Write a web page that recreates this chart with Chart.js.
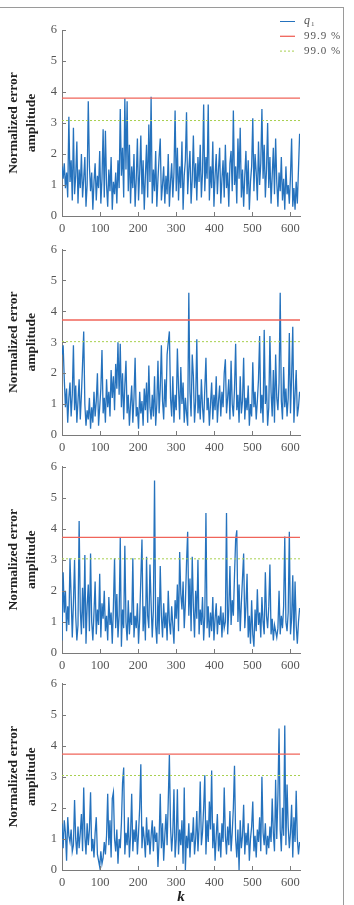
<!DOCTYPE html>
<html>
<head>
<meta charset="utf-8">
<script src="https://cdn.jsdelivr.net/npm/chart.js@4.4.1/dist/chart.umd.min.js"></script>
<style>
  html, body { margin: 0; padding: 0; background: #fff; width: 354px; height: 905px; overflow: hidden; }
  #frame { position: absolute; left: -1px; top: 7px; width: 344px; height: 910px; border-top: 1px solid #9a9a9a; border-right: 1px solid #9a9a9a; }
  .panel { position: absolute; left: 0; width: 354px; }
</style>
</head>
<body>
<div id="frame"></div>
<div class="panel" style="top:0px;height:245px"><canvas id="c1"></canvas></div>
<div class="panel" style="top:237px;height:227px"><canvas id="c2"></canvas></div>
<div class="panel" style="top:454px;height:228px"><canvas id="c3"></canvas></div>
<div class="panel" style="top:671px;height:235px"><canvas id="c4"></canvas></div>
<script>
// DATA (one sample every 3 steps of k)
const kStep = 3
const kMin = 0
const kMax = 625
const kTicks = [0, 100, 200, 300, 400, 500, 600]
const yTicks = [0, 1, 2, 3, 4, 5, 6]
const legendLabels = ['q', '99.9 %', '99.0 %']

const q1 = [
  1.6, 1.2, 1.7, 0.9, 1.4, 0.6, 3.2, 1.1, 1.8, 0.5,
  2.85, 0.7, 1.3, 2.4, 0.4, 1.5, 0.9, 2.0, 0.6, 1.2,
  1.9, 0.3, 1.0, 3.7, 1.6, 0.8, 1.4, 0.2, 1.1, 1.7,
  0.5, 1.3, 0.9, 2.1, 0.4, 1.2, 2.8, 0.6, 2.75, 1.0,
  0.3, 1.5, 0.8, 1.9, 0.2, 1.1, 0.7, 1.4, 0.4, 1.8,
  0.9, 3.45, 1.3, 2.2, 0.6, 3.8, 1.5, 3.7, 0.8, 2.3,
  0.4, 1.6, 0.9, 2.0, 0.3, 1.2, 2.5, 0.5, 1.4, 2.6,
  0.7, 1.8, 0.2, 1.3, 2.3, 0.6, 2.95, 1.1, 3.85, 0.4,
  1.5, 0.8, 2.1, 0.3, 1.2, 1.9, 2.5, 0.5, 1.0, 1.6,
  0.4, 1.3, 0.7, 2.0, 0.3, 1.1, 1.7, 0.6, 1.4, 3.4,
  0.8, 2.2, 0.5, 1.6, 0.9, 2.4, 0.2, 1.3, 1.8, 3.35,
  0.7, 1.5, 2.1, 0.4, 1.2, 2.6, 0.9, 1.7, 0.5, 1.9,
  1.1, 2.3, 0.6, 1.4, 3.6, 0.8, 1.9, 1.2, 3.6, 0.5,
  1.6, 0.9, 2.4, 0.3, 1.3, 2.0, 0.7, 1.5, 2.2, 0.4,
  1.2, 1.8, 0.6, 2.3, 0.9, 1.4, 0.3, 1.7, 2.1, 0.8,
  3.4, 1.0, 1.6, 0.4, 2.5, 1.2, 2.85, 0.6, 1.5, 0.3,
  1.3, 2.1, 0.7, 1.8, 0.2, 1.1, 1.6, 3.15, 0.8, 2.0,
  1.4, 0.5, 2.4, 1.0, 1.7, 3.45, 1.2, 2.3, 0.6, 1.5,
  3.0, 0.9, 1.9, 0.4, 1.3, 2.2, 0.7, 2.5, 1.1, 0.3,
  1.4, 0.8, 1.9, 0.5, 1.2, 0.2, 1.6, 0.7, 1.0, 0.4,
  1.3, 2.5, 0.3, 0.9, 0.2, 1.1, 0.4, 1.5, 2.65
]
const q2 = [
  2.6, 2.9, 1.8, 0.9, 1.5, 0.4, 1.2, 1.7, 0.6, 1.3,
  2.9, 0.8, 1.6, 0.4, 1.1, 1.8, 0.5, 1.3, 2.3, 3.35,
  1.0, 0.3, 0.8, 0.5, 1.2, 0.2, 0.9, 0.4, 1.4, 0.6,
  1.1, 2.0, 0.3, 0.9, 1.5, 2.75, 0.7, 1.2, 0.4, 1.8,
  0.9, 1.4, 0.6, 2.1, 1.2, 1.9, 0.8, 2.3, 1.5, 3.0,
  1.3, 2.95, 0.9, 2.0, 0.5, 1.6, 2.4, 0.7, 1.3, 0.3,
  1.0, 1.6, 0.4, 1.2, 2.5, 0.6, 0.9, 0.2, 1.4, 0.7,
  1.1, 0.3, 1.5, 0.8, 1.7, 0.4, 2.25, 0.9, 0.5, 1.3,
  0.6, 1.9, 0.3, 1.0, 2.4, 0.7, 1.5, 2.9, 1.1, 0.5,
  1.8, 0.9, 2.6, 3.0, 3.35, 1.2, 0.6, 1.9, 0.4, 1.3,
  0.8, 2.8, 1.5, 0.5, 2.2, 1.0, 1.7, 0.4, 1.2, 0.7,
  0.3, 4.6, 1.4, 0.6, 2.6, 1.9, 0.4, 1.1, 3.1, 0.7,
  1.3, 0.5, 1.8, 0.9, 0.4, 1.5, 2.5, 0.8, 1.2, 0.3,
  1.0, 1.7, 0.5, 1.3, 0.8, 1.9, 0.4, 1.1, 1.6, 0.6,
  1.4, 0.9, 2.0, 2.45, 0.7, 1.2, 1.8, 0.5, 2.4, 1.0,
  0.6, 1.5, 2.95, 0.8, 1.3, 0.4, 1.9, 0.7, 1.1, 2.5,
  0.5, 1.2, 0.8, 1.6, 0.3, 1.0, 0.6, 2.35, 0.9, 1.4,
  0.5, 1.1, 1.8, 3.2, 0.7, 1.3, 0.4, 3.4, 1.0, 1.6,
  0.3, 0.9, 3.2, 1.4, 0.6, 2.1, 0.4, 2.6, 1.2, 0.8,
  1.7, 4.6, 1.1, 0.5, 2.2, 0.9, 1.5, 0.6, 1.2, 3.3,
  0.7, 1.9, 3.5, 0.4, 1.3, 2.1, 0.6, 0.9, 1.4
]
const q3 = [
  0.4, 2.6, 1.3, 2.0, 0.7, 1.5, 0.9, 3.05, 1.8, 0.5,
  1.6, 3.0, 1.2, 0.4, 0.9, 4.25, 1.4, 0.6, 2.1, 0.8,
  3.15, 0.3, 1.5, 2.2, 0.7, 3.2, 1.0, 0.4, 1.3, 2.3,
  0.6, 1.4, 0.9, 2.55, 0.5, 1.6, 1.1, 2.0, 0.7, 1.2,
  0.4, 1.8, 0.9, 1.3, 0.3, 1.5, 3.05, 0.8, 1.9, 0.5,
  1.2, 3.7, 0.2, 1.4, 0.8, 3.45, 1.0, 0.4, 1.7, 0.6,
  1.3, 0.9, 3.05, 0.5, 1.2, 0.8, 1.6, 0.3, 1.1, 2.4,
  3.65, 0.7, 1.5, 0.4, 3.1, 1.2, 0.8, 2.85, 1.6, 0.5,
  1.4, 5.55, 0.9, 0.3, 1.8, 0.6, 2.8, 1.2, 0.5, 1.6,
  0.8, 1.3, 0.4, 2.0, 1.0, 0.6, 1.5, 0.9, 0.3, 1.7,
  1.1, 2.2, 0.7, 3.25, 1.9, 1.4, 2.3, 0.8, 1.6, 2.9,
  3.9, 1.2, 2.4, 0.7, 3.1, 1.5, 0.5, 2.0, 1.1, 3.0,
  0.6, 1.4, 0.9, 1.8, 0.4, 1.2, 4.5, 0.8, 1.5, 0.5,
  1.3, 0.7, 1.8, 0.4, 1.1, 1.6, 0.6, 1.2, 0.9, 1.5,
  0.5, 1.3, 0.8, 1.0, 4.5, 0.6, 1.4, 2.8, 0.9, 1.7,
  1.2, 2.5, 3.65, 3.95, 1.0, 2.2, 0.7, 1.6, 2.4, 3.2,
  0.8, 1.5, 2.55, 0.5, 1.2, 0.3, 1.7, 0.6, 0.2, 1.4,
  0.7, 2.05, 0.9, 1.3, 0.5, 1.8, 1.0, 0.6, 2.6, 1.2,
  0.8, 1.5, 2.85, 0.6, 1.1, 0.4, 0.9, 0.7, 0.5, 0.8,
  2.0, 0.6, 1.2, 0.8, 1.5, 3.75, 1.0, 0.7, 1.3, 3.9,
  0.6, 1.1, 2.5, 0.4, 2.3, 0.9, 0.3, 1.0, 1.45
]
const q4 = [
  1.5, 0.7, 1.6, 1.2, 0.3, 1.7, 1.1, 0.9, 1.3, 0.6,
  0.8, 2.25, 1.0, 0.5, 1.4, 0.7, 1.2, 1.8, 0.6, 2.65,
  1.1, 0.5, 1.5, 0.8, 1.3, 2.5, 0.6, 1.0, 0.4, 1.2,
  1.7, 0.5, 0.3, 0.1, 0.6, 0.2, 0.4, 0.9, 0.5, 1.1,
  2.45, 0.8, 1.6, 0.4, 2.3, 2.5, 1.0, 0.6, 1.3, 0.2,
  1.0, 0.7, 1.5, 2.8, 3.3, 0.5, 1.2, 0.8, 1.7, 0.4,
  1.1, 2.45, 0.6, 1.3, 0.9, 1.6, 0.5, 1.2, 2.0, 3.4,
  0.7, 1.4, 1.0, 0.4, 1.7, 0.8, 1.3, 0.5, 1.1, 1.6,
  0.6, 1.4, 0.9, 1.2, 0.1, 1.0, 2.45, 0.7, 1.5, 0.3,
  1.1, 1.8, 0.8, 2.2, 3.7, 1.4, 0.6, 1.2, 2.6, 0.4,
  1.0, 2.6, 0.5, 1.3, 0.8, 1.6, 0.2, 2.65, 0.0, 1.1,
  0.7, 1.5, 0.4, 1.2, 0.9, 1.7, 0.5, 1.0, 1.9, 0.6,
  1.4, 2.85, 0.8, 1.2, 2.0, 3.05, 0.5, 1.6, 0.9, 2.2,
  1.3, 3.2, 0.7, 1.5, 0.3, 1.1, 1.8, 0.6, 1.2, 0.4,
  1.5, 0.9, 2.65, 1.1, 0.5, 1.4, 0.8, 1.9, 0.6, 1.2,
  2.0, 3.35, 1.0, 0.4, 1.3, 0.0, 1.6, 0.7, 1.1, 2.1,
  0.5, 1.2, 0.8, 1.5, 0.3, 1.0, 1.4, 2.2, 0.6, 1.1,
  0.4, 1.3, 0.9, 1.7, 0.6, 3.0, 1.2, 0.8, 1.5, 0.5,
  1.1, 0.7, 1.4, 0.9, 2.3, 1.2, 0.6, 2.9, 1.0, 2.4,
  4.55, 1.3, 0.6, 2.0, 1.1, 4.65, 0.8, 2.75, 1.4, 0.7,
  1.2, 2.1, 0.4, 1.7, 0.9, 2.55, 1.0, 0.5, 0.9
]
const limit999 = [3.8, 3.72, 3.72, 3.73]
const limit990 = [3.08, 3.02, 3.03, 3.04]

// ESTILO
const serif = "'Liberation Serif', 'DejaVu Serif', serif"
const blue = '#2572bd'
const red = '#f0645a'
const green = '#a8d050'
const axisColor = '#7a7a7a'
const tickColor = '#555'

function toPoints(values) {
    return values.map(function(v, i) { return { x: i * kStep, y: v } })
}

// ticks para dentro do grafico
const inwardTicks = {
    id: 'inwardTicks',
    afterDraw(chart) {
        const ctx = chart.ctx
        const area = chart.chartArea
        const x = chart.scales.x
        const y = chart.scales.y
        ctx.save()
        ctx.strokeStyle = axisColor
        ctx.lineWidth = 1
        ctx.beginPath()
        x.ticks.forEach(function(t) {
            if (t.value === 0) return
            const px = Math.round(x.getPixelForValue(t.value)) + 0.5
            ctx.moveTo(px, area.bottom)
            ctx.lineTo(px, area.bottom - 4)
        })
        y.ticks.forEach(function(t) {
            if (t.value === 0) return
            const py = Math.round(y.getPixelForValue(t.value)) + 0.5
            ctx.moveTo(area.left, py)
            ctx.lineTo(area.left + 4, py)
        })
        ctx.stroke()
        ctx.restore()
    }
}

// legenda desenhada no canto superior direito
const cornerLegend = {
    id: 'cornerLegend',
    afterDraw(chart, args, opts) {
        if (!opts.show) return
        const ctx = chart.ctx
        const sets = chart.data.datasets
        ctx.save()
        ctx.textBaseline = 'middle'
        ctx.fillStyle = tickColor
        sets.forEach(function(ds, i) {
            const yy = 21.5 + i * 14.8
            ctx.strokeStyle = ds.borderColor
            ctx.lineWidth = i === 0 ? 1 : ds.borderWidth
            ctx.setLineDash(ds.borderDash || [])
            ctx.beginPath()
            ctx.moveTo(280, yy)
            ctx.lineTo(295, yy)
            ctx.stroke()
            ctx.setLineDash([])
            if (i === 0) {
                ctx.font = 'italic 12px ' + serif
                ctx.fillText(ds.label, 304, yy - 1)
                ctx.font = '7px ' + serif
                ctx.fillText('1', 311, yy + 3)
            } else {
                ctx.font = '11px ' + serif
                ctx.letterSpacing = '1px'
                ctx.fillText(ds.label, 304, yy)
                ctx.letterSpacing = '0px'
            }
        })
        ctx.restore()
    }
}

function makeChart(canvasId, values, hi, lo, padTop, xAxisH, showLegend, showK) {
    const ctx = document.getElementById(canvasId).getContext('2d')
    return new Chart(ctx, {
        type: 'line',
        data: {
            datasets: [{
                label: legendLabels[0],
                data: toPoints(values),
                borderColor: blue,
                borderWidth: 1.3,
                pointRadius: 0,
                tension: 0,
                order: 2
            }, {
                label: legendLabels[1],
                data: [{ x: kMin, y: hi }, { x: kMax, y: hi }],
                borderColor: red,
                borderWidth: 1.3,
                pointRadius: 0,
                order: 0
            }, {
                label: legendLabels[2],
                data: [{ x: kMin, y: lo }, { x: kMax, y: lo }],
                borderColor: green,
                borderWidth: 1,
                borderDash: [2, 2],
                pointRadius: 0,
                order: 1
            }]
        },
        options: {
            responsive: true,
            maintainAspectRatio: false,
            animation: false,
            layout: { padding: { top: padTop, right: 54, left: 0, bottom: 0 } },
            scales: {
                x: {
                    type: 'linear',
                    min: kMin,
                    max: kMax,
                    afterBuildTicks: function(s) { s.ticks = kTicks.map(function(v) { return { value: v } }) },
                    afterFit: function(s) { s.height = xAxisH },
                    grid: { drawOnChartArea: false, drawTicks: false },
                    border: { display: true, color: axisColor, width: 1 },
                    ticks: { color: tickColor, font: { family: serif, size: 12.5 }, padding: 5, maxRotation: 0, autoSkip: false },
                    title: {
                        display: showK,
                        text: 'k',
                        color: '#222',
                        font: { family: serif, size: 15, weight: 'bold', style: 'italic' },
                        padding: 0
                    }
                },
                y: {
                    min: 0,
                    max: 6,
                    afterBuildTicks: function(s) { s.ticks = yTicks.map(function(v) { return { value: v } }) },
                    afterFit: function(s) { s.width = 62 },
                    grid: { drawOnChartArea: false, drawTicks: false },
                    border: { display: true, color: axisColor, width: 1 },
                    ticks: { color: tickColor, font: { family: serif, size: 12.5 }, padding: 5 },
                    title: {
                        display: true,
                        text: ['Normalized error', 'amplitude'],
                        color: '#222',
                        font: { family: serif, size: 13.5, weight: 'bold', lineHeight: 1.3 },
                        padding: { top: 5, bottom: 0 }
                    }
                }
            },
            plugins: {
                legend: { display: false },
                tooltip: { enabled: false },
                cornerLegend: { show: showLegend }
            }
        },
        plugins: [inwardTicks, cornerLegend]
    })
}

makeChart('c1', q1, limit999[0], limit990[0], 30, 29, true, false)
makeChart('c2', q2, limit999[1], limit990[1], 12, 29, false, false)
makeChart('c3', q3, limit999[2], limit990[2], 12, 29, false, false)
makeChart('c4', q4, limit999[3], limit990[3], 12, 36, false, true)
</script>
</body>
</html>
